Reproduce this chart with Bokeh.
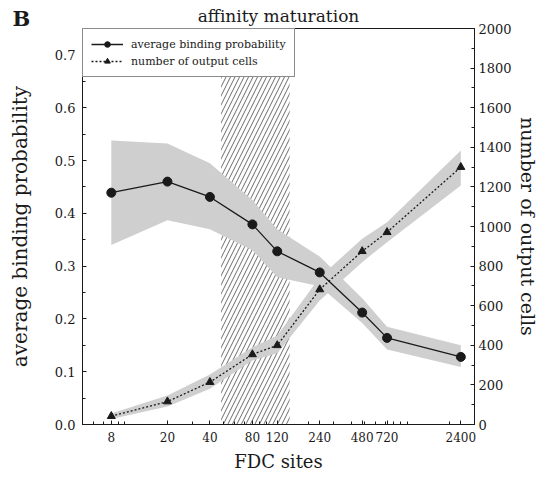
from bokeh.plotting import figure
from bokeh.models import (LinearAxis, Range1d, FixedTicker, PrintfTickFormatter,
                          BoxAnnotation, Legend, LegendItem, Label)
from bokeh.embed import file_html
from bokeh.resources import INLINE

# ---------------- data ----------------
fdc_sites = [8, 20, 40, 80, 120, 240, 480, 720, 2400]
binding_prob = [0.439, 0.460, 0.431, 0.379, 0.328, 0.288, 0.212, 0.164, 0.128]
binding_hi = [0.538, 0.532, 0.495, 0.425, 0.370, 0.318, 0.239, 0.185, 0.150]
binding_lo = [0.340, 0.387, 0.370, 0.330, 0.279, 0.262, 0.192, 0.142, 0.109]
output_cells = [42, 116, 214, 354, 400, 682, 875, 971, 1300]
output_hi = [56, 146, 252, 390, 450, 744, 938, 1022, 1384]
output_lo = [28, 91, 180, 323, 360, 626, 820, 921, 1207]
x_tick_labels = ["8", "20", "40", "80", "120", "240", "480", "720", "2400"]
x_minor = [5, 6, 7, 9, 10, 30, 50, 60, 70, 90, 100, 200, 300, 400, 500, 600, 700,
           800, 900, 1000, 2000, 3000]
left_ticks = [0.0, 0.1, 0.2, 0.3, 0.4, 0.5, 0.6, 0.7]
left_minor = [0.05, 0.15, 0.25, 0.35, 0.45, 0.55, 0.65, 0.75]
right_ticks = [0, 200, 400, 600, 800, 1000, 1200, 1400, 1600, 1800, 2000]
right_minor = [100, 300, 500, 700, 900, 1100, 1300, 1500, 1700, 1900]
hatch_start, hatch_end = 48, 147

FONT = "DejaVu Serif"
INK = "#1a1a1a"
BAND = "#cfcfcf"

p = figure(width=559, height=485, x_axis_type="log",
           x_range=Range1d(5, 3000), y_range=Range1d(0, 0.75),
           output_backend="svg", toolbar_location=None,
           min_border_left=82, min_border_right=81, min_border_top=28, min_border_bottom=61)
p.extra_y_ranges = {"cells": Range1d(0, 2000)}

p.title.text = "affinity maturation"
p.title.align = "center"
p.title.text_font = FONT
p.title.text_font_size = "17px"
p.title.text_font_style = "normal"
p.title.text_color = INK
p.title.standoff = 6

p.xgrid.visible = False
p.ygrid.visible = False
p.outline_line_color = INK
p.outline_line_width = 1
p.background_fill_color = "white"
p.border_fill_color = "white"

# hatched region
hatch = BoxAnnotation(left=hatch_start, right=hatch_end, fill_alpha=0, fill_color=None,
                      line_color=None, hatch_pattern="/", hatch_color=INK,
                      hatch_scale=9, hatch_weight=0.65, level="underlay")
p.add_layout(hatch)

# bands
p.varea(x=fdc_sites, y1=binding_lo, y2=binding_hi, fill_color=BAND)
p.varea(x=fdc_sites, y1=output_lo, y2=output_hi, fill_color=BAND, y_range_name="cells")

# lines and markers
r1 = p.line(fdc_sites, binding_prob, line_color=INK, line_width=1.3)
s1 = p.scatter(fdc_sites, binding_prob, marker="circle", size=9, color=INK)
r2 = p.line(fdc_sites, output_cells, line_color=INK, line_width=1.3, line_dash="2 2",
            y_range_name="cells")
s2 = p.scatter(fdc_sites, output_cells, marker="triangle", size=8, color=INK,
               y_range_name="cells")

legend = Legend(items=[LegendItem(label="average binding probability", renderers=[r1, s1]),
                       LegendItem(label="number of output cells", renderers=[r2, s2])],
                location="top_left", margin=0, padding=8, spacing=3,
                glyph_width=32, glyph_height=14, label_height=14, label_standoff=8,
                label_text_font=FONT, label_text_font_size="11px", label_text_color=INK,
                border_line_color=INK, border_line_width=1,
                background_fill_color="white", background_fill_alpha=1)
p.add_layout(legend)


def style_axis(ax, label_size="18px", tick_size="13px"):
    ax.axis_line_color = INK
    ax.major_tick_line_color = INK
    ax.minor_tick_line_color = INK
    ax.major_tick_in = 4
    ax.major_tick_out = 0
    ax.minor_tick_in = 3
    ax.minor_tick_out = 0
    ax.major_label_text_font = FONT
    ax.major_label_text_font_size = tick_size
    ax.major_label_text_color = INK
    ax.axis_label_text_font = FONT
    ax.axis_label_text_font_size = label_size
    ax.axis_label_text_font_style = "normal"
    ax.axis_label_text_color = INK


# x axis
xax = p.xaxis[0]
xax.ticker = FixedTicker(ticks=fdc_sites, minor_ticks=x_minor)
xax.major_label_overrides = {v: t for v, t in zip(fdc_sites, x_tick_labels)}
xax.axis_label = "FDC sites"
style_axis(xax, "18px", "12px")
xax.major_label_standoff = 7
xax.axis_label_standoff = 6

# left axis
yax = p.yaxis[0]
yax.ticker = FixedTicker(ticks=left_ticks, minor_ticks=left_minor)
yax.formatter = PrintfTickFormatter(format="%.1f")
yax.axis_label = "average binding probability"
style_axis(yax, "20px")
yax.major_label_standoff = 7
yax.axis_label_standoff = 20

# right axis
rax = LinearAxis(y_range_name="cells", axis_label="number of output cells",
                 ticker=FixedTicker(ticks=right_ticks, minor_ticks=right_minor))
style_axis(rax, "19px")
rax.major_label_standoff = 4
rax.axis_label_standoff = 2
p.add_layout(rax, "right")

# panel letter (in a side panel so it is not clipped to the frame)
p.add_layout(Label(x=12, y=18, x_units="canvas", y_units="canvas", text="B",
                   text_font=FONT, text_font_size="21px", text_font_style="bold",
                   text_color=INK, text_baseline="middle", text_align="left"), "right")

open("out.html", "w").write(file_html(p, INLINE))
